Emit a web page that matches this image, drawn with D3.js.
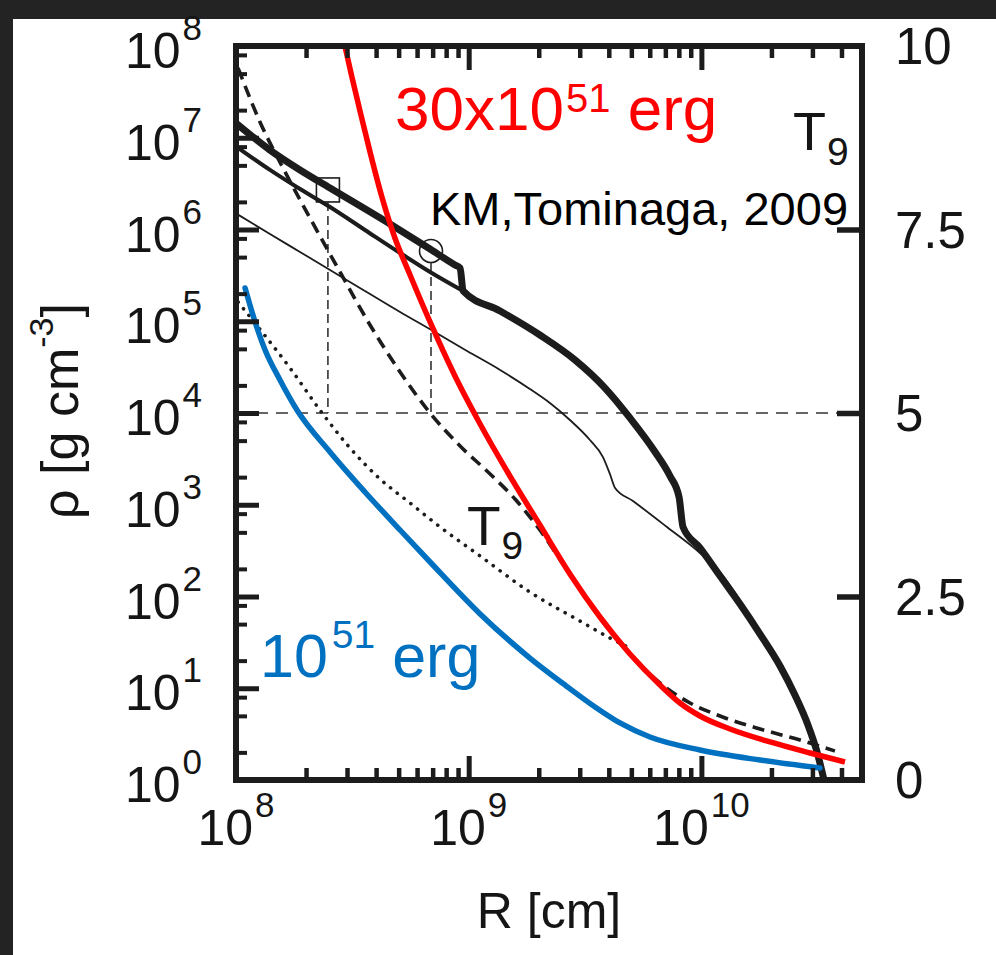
<!DOCTYPE html>
<html>
<head>
<meta charset="utf-8">
<script src="https://cdn.jsdelivr.net/npm/d3@7"></script>
<style>
  html, body { margin: 0; padding: 0; background: #ffffff; }
  svg { display: block; }
  text { font-family: "Liberation Sans", Arial, Helvetica, sans-serif; }
</style>
</head>
<body>
<svg id="chart" width="996" height="955"></svg>
<script>
// ---------------- data ----------------
const radiusDecades = [1e8, 1e9, 1e10];
const radiusDecadeExponents = ["8", "9", "10"];
const radiusMinorMantissas = [2, 3, 4, 5, 6, 7, 8, 9];
const densityDecades = [1e0, 1e1, 1e2, 1e3, 1e4, 1e5, 1e6, 1e7, 1e8];
const densityDecadeExponents = ["0", "1", "2", "3", "4", "5", "6", "7", "8"];
const densityMinorMantissas = [2, 5, 8];
const temperatureTicks = [0, 2.5, 5, 7.5, 10];
const temperatureTickLabels = ["0", "2.5", "5", "7.5", "10"];

// Progenitor density, thick curve (log10 R [cm], log10 rho [g cm^-3])
const thickLogR   = [8.004, 8.146, 8.275, 8.404, 8.662, 8.834, 8.941, 8.963, 8.976, 9.135, 9.306, 9.457, 9.586, 9.693, 9.801, 9.865, 9.904, 9.921, 9.994, 10.080, 10.166, 10.252, 10.338, 10.402, 10.458, 10.497, 10.527];
const thickLogRho = [7.150, 6.866, 6.649, 6.452, 6.060, 5.787, 5.613, 5.580, 5.330, 5.112, 4.850, 4.578, 4.272, 3.946, 3.575, 3.313, 3.084, 2.757, 2.529, 2.223, 1.918, 1.591, 1.243, 0.926, 0.599, 0.305, 0.0];

// Medium curve joining the thick one near 1e9 cm
const mediumLogR   = [8.004, 8.146, 8.275, 8.404, 8.554, 8.705, 8.834, 8.976];
const mediumLogRho = [6.899, 6.649, 6.441, 6.245, 5.995, 5.744, 5.537, 5.330];

// Thin density curve
const thinLogR   = [8.004, 8.146, 8.275, 8.404, 8.554, 8.705, 8.847, 8.993, 9.135, 9.263, 9.349, 9.435, 9.521, 9.577, 9.607, 9.629, 9.706, 9.852, 9.994, 10.080, 10.166];
const thinLogRho = [6.169, 5.951, 5.755, 5.559, 5.330, 5.101, 4.894, 4.676, 4.469, 4.262, 4.109, 3.924, 3.706, 3.520, 3.335, 3.183, 3.041, 2.757, 2.474, 2.267, 1.962];

// Peak temperature T9, dashed
const dashedLogR = [8.009, 8.103, 8.202, 8.318, 8.447, 8.576, 8.705, 8.834, 8.963, 9.092, 9.199, 9.306, 9.414, 9.564, 9.693, 9.822, 9.951, 10.080, 10.252, 10.424, 10.574];
const dashedT9   = [9.700, 8.965, 8.338, 7.657, 6.921, 6.199, 5.559, 5.000, 4.550, 4.169, 3.828, 3.406, 2.902, 2.207, 1.717, 1.322, 1.049, 0.872, 0.695, 0.545, 0.395];

// Peak temperature T9, dotted
const dottedLogR = [8.009, 8.112, 8.232, 8.370, 8.490, 8.619, 8.748, 8.877, 9.049, 9.263, 9.478, 9.607, 9.693];
const dottedT9   = [6.512, 6.104, 5.613, 5.000, 4.523, 4.101, 3.774, 3.447, 3.052, 2.561, 2.166, 1.935, 1.798];

// 1e51 erg model (blue)
const lowEnergyLogR = [8.039, 8.082, 8.125, 8.189, 8.262, 8.404, 8.554, 8.705, 8.834, 9.049, 9.263, 9.414, 9.543, 9.650, 9.779, 9.994, 10.252, 10.510];
const lowEnergyT9   = [6.703, 6.240, 5.858, 5.450, 5.041, 4.469, 3.924, 3.406, 2.970, 2.262, 1.662, 1.294, 0.995, 0.777, 0.586, 0.409, 0.272, 0.163];

// 30x1e51 erg model (red)
const highEnergyLogR = [8.468, 8.498, 8.533, 8.576, 8.627, 8.683, 8.748, 8.834, 8.941, 9.049, 9.177, 9.306, 9.435, 9.564, 9.693, 9.822, 9.908, 9.994, 10.123, 10.295, 10.467, 10.617];
const highEnergyT9   = [10.0, 9.578, 9.114, 8.556, 7.943, 7.384, 6.880, 6.240, 5.504, 4.850, 4.142, 3.474, 2.807, 2.221, 1.717, 1.294, 1.049, 0.872, 0.695, 0.518, 0.368, 0.245];

// Marked densities where T9 = 5 is reached (square, circle)
const markerLogR   = [8.395, 8.838];
const markerLogRho = [6.431, 5.766];
const markerShapes = ["square", "circle"];
const thresholdT9 = 5;

// ---------------- layout ----------------
const svg = d3.select("#chart");
const plot = { left: 236, right: 862, top: 46, bottom: 780 };
const ink = "#1c1c1c";
const red = "#ff0000";
const blue = "#0070c0";

const x = d3.scaleLog().domain([1e8, 4.9e10]).range([plot.left, plot.right]);
const yRho = d3.scaleLog().domain([1, 1e8]).range([plot.bottom, plot.top]);
const yT = d3.scaleLinear().domain([0, 10]).range([plot.bottom, plot.top]);

// dark page edges
svg.append("rect").attr("x", 0).attr("y", 0).attr("width", 996).attr("height", 955).attr("fill", "#ffffff");
svg.append("rect").attr("x", 0).attr("y", 0).attr("width", 996).attr("height", 19).attr("fill", "#232323");
svg.append("rect").attr("x", 0).attr("y", 0).attr("width", 13).attr("height", 955).attr("fill", "#232323");

const zip = (a, b) => a.map((v, i) => [v, b[i]]);
const rhoLine = d3.line().x(d => x(Math.pow(10, d[0]))).y(d => yRho(Math.pow(10, d[1]))).curve(d3.curveMonotoneX);
const tLine = d3.line().x(d => x(Math.pow(10, d[0]))).y(d => yT(d[1])).curve(d3.curveMonotoneX);

// guide lines: T9 = 5 (rho = 1e4) and drops from the marked points
const guides = svg.append("g").attr("stroke", "#333").attr("stroke-width", 1.6).attr("fill", "none");
guides.append("line")
  .attr("x1", plot.left).attr("x2", plot.right)
  .attr("y1", yT(thresholdT9)).attr("y2", yT(thresholdT9))
  .attr("stroke-dasharray", "12 8");
markerLogR.forEach((lr, i) => {
  const cx = x(Math.pow(10, lr));
  const cy = yRho(Math.pow(10, markerLogRho[i]));
  guides.append("line")
    .attr("x1", cx).attr("x2", cx)
    .attr("y1", cy + 12).attr("y2", yT(thresholdT9))
    .attr("stroke-dasharray", "9 5");
});

// density curves
svg.append("path").datum(zip(thinLogR, thinLogRho)).attr("d", rhoLine)
  .attr("fill", "none").attr("stroke", ink).attr("stroke-width", 1.8);
svg.append("path").datum(zip(mediumLogR, mediumLogRho)).attr("d", rhoLine)
  .attr("fill", "none").attr("stroke", ink).attr("stroke-width", 4);
svg.append("path").datum(zip(thickLogR, thickLogRho)).attr("d", rhoLine)
  .attr("fill", "none").attr("stroke", ink).attr("stroke-width", 7).attr("stroke-linejoin", "round");

// temperature curves
svg.append("path").datum(zip(dottedLogR, dottedT9)).attr("d", tLine)
  .attr("fill", "none").attr("stroke", ink).attr("stroke-width", 3.6)
  .attr("stroke-linecap", "round").attr("stroke-dasharray", "0.1 8.5");
svg.append("path").datum(zip(dashedLogR, dashedT9)).attr("d", tLine)
  .attr("fill", "none").attr("stroke", ink).attr("stroke-width", 3.6)
  .attr("stroke-dasharray", "12 7");
svg.append("path").datum(zip(lowEnergyLogR, lowEnergyT9)).attr("d", tLine)
  .attr("fill", "none").attr("stroke", blue).attr("stroke-width", 5.5).attr("stroke-linecap", "round");
svg.append("path").datum(zip(highEnergyLogR, highEnergyT9)).attr("d", tLine)
  .attr("fill", "none").attr("stroke", red).attr("stroke-width", 5.5);

// markers
markerLogR.forEach((lr, i) => {
  const cx = x(Math.pow(10, lr));
  const cy = yRho(Math.pow(10, markerLogRho[i]));
  if (markerShapes[i] === "square") {
    svg.append("rect").attr("x", cx - 11.5).attr("y", cy - 12).attr("width", 23).attr("height", 24)
      .attr("fill", "none").attr("stroke", ink).attr("stroke-width", 1.6);
  } else {
    svg.append("circle").attr("cx", cx).attr("cy", cy).attr("r", 11.5)
      .attr("fill", "none").attr("stroke", ink).attr("stroke-width", 1.6);
  }
});

// ---------------- axes ----------------
const radiusMinor = [];
radiusDecades.forEach(d => radiusMinorMantissas.forEach(m => { if (d * m <= 4.9e10) radiusMinor.push(d * m); }));
const densityMinor = [];
densityDecades.slice(0, -1).forEach(d => densityMinorMantissas.forEach(m => densityMinor.push(d * m)));

function styleAxis(g, width) {
  g.select(".domain").remove();
  g.selectAll(".tick line").attr("stroke", ink).attr("stroke-width", width);
  g.selectAll(".tick text").remove();
}

const majorX = radiusDecades.filter(v => v > 1e8);
svg.append("g").attr("transform", `translate(0,${plot.bottom})`)
  .call(d3.axisBottom(x).tickValues(majorX).tickSize(-24)).call(g => styleAxis(g, 5));
svg.append("g").attr("transform", `translate(0,${plot.bottom})`)
  .call(d3.axisBottom(x).tickValues(radiusMinor).tickSize(-12)).call(g => styleAxis(g, 4.5));
svg.append("g").attr("transform", `translate(0,${plot.top})`)
  .call(d3.axisTop(x).tickValues(majorX).tickSize(-24)).call(g => styleAxis(g, 5));
svg.append("g").attr("transform", `translate(0,${plot.top})`)
  .call(d3.axisTop(x).tickValues(radiusMinor).tickSize(-12)).call(g => styleAxis(g, 4.5));

svg.append("g").attr("transform", `translate(${plot.left},0)`)
  .call(d3.axisLeft(yRho).tickValues(densityDecades.slice(1, -1)).tickSize(-23)).call(g => styleAxis(g, 5));
svg.append("g").attr("transform", `translate(${plot.left},0)`)
  .call(d3.axisLeft(yRho).tickValues(densityMinor).tickSize(-11)).call(g => styleAxis(g, 4));

svg.append("g").attr("transform", `translate(${plot.right},0)`)
  .call(d3.axisRight(yT).tickValues(temperatureTicks.slice(1, -1)).tickSize(-25)).call(g => styleAxis(g, 5.5));

// frame
svg.append("rect")
  .attr("x", plot.left).attr("y", plot.top)
  .attr("width", plot.right - plot.left).attr("height", plot.bottom - plot.top)
  .attr("fill", "none").attr("stroke", ink).attr("stroke-width", 6);

// ---------------- tick labels ----------------
const labelColor = "#151515";

densityDecades.forEach((v, i) => {
  const t = svg.append("text")
    .attr("x", 202).attr("y", yRho(v) + 22)
    .attr("text-anchor", "end").attr("font-size", 50).attr("fill", labelColor);
  t.append("tspan").text("10");
  t.append("tspan").attr("dx", 2).attr("dy", -28).attr("font-size", 35).text(densityDecadeExponents[i]);
});

radiusDecades.forEach((v, i) => {
  const t = svg.append("text")
    .attr("x", x(v)).attr("y", 845)
    .attr("text-anchor", "middle").attr("font-size", 50).attr("fill", labelColor);
  t.append("tspan").text("10");
  t.append("tspan").attr("dx", 2).attr("dy", -28).attr("font-size", 35).text(radiusDecadeExponents[i]);
});

temperatureTicks.forEach((v, i) => {
  svg.append("text")
    .attr("x", 895).attr("y", yT(v) + 18)
    .attr("font-size", 51).attr("fill", labelColor)
    .text(temperatureTickLabels[i]);
});

// axis titles
svg.append("text")
  .attr("x", (plot.left + plot.right) / 2).attr("y", 928)
  .attr("text-anchor", "middle").attr("font-size", 50).attr("fill", labelColor)
  .text("R [cm]");

const yTitle = svg.append("text")
  .attr("transform", `translate(78,${(plot.top + plot.bottom) / 2 - 2}) rotate(-90)`)
  .attr("text-anchor", "middle").attr("font-size", 52).attr("fill", labelColor);
yTitle.append("tspan").text("ρ [g cm");
yTitle.append("tspan").attr("dy", -25).attr("font-size", 34).text("-3");
yTitle.append("tspan").attr("dy", 25).text("]");

// ---------------- annotations ----------------
const hiLabel = svg.append("text").attr("x", 395).attr("y", 130).attr("font-size", 62).attr("fill", red);
hiLabel.append("tspan").text("30x10");
hiLabel.append("tspan").attr("dx", 2).attr("dy", -18).attr("font-size", 40).text("51");
hiLabel.append("tspan").attr("dy", 18).text(" erg");

const loLabel = svg.append("text").attr("x", 260).attr("y", 677).attr("font-size", 61).attr("fill", blue);
loLabel.append("tspan").text("10");
loLabel.append("tspan").attr("dx", 4).attr("dy", -29).attr("font-size", 39).text("51");
loLabel.append("tspan").attr("dy", 29).text(" erg");

const tTop = svg.append("text").attr("x", 793).attr("y", 150).attr("font-size", 54).attr("fill", labelColor);
tTop.append("tspan").text("T");
tTop.append("tspan").attr("dx", 1).attr("dy", 15).attr("font-size", 39).text("9");

const tMid = svg.append("text").attr("x", 467).attr("y", 545).attr("font-size", 55).attr("fill", labelColor);
tMid.append("tspan").text("T");
tMid.append("tspan").attr("dx", 1).attr("dy", 14).attr("font-size", 39).text("9");

svg.append("text").attr("x", 430).attr("y", 225).attr("font-size", 47).attr("fill", "#000")
  .text("KM,Tominaga, 2009");
</script>
</body>
</html>
